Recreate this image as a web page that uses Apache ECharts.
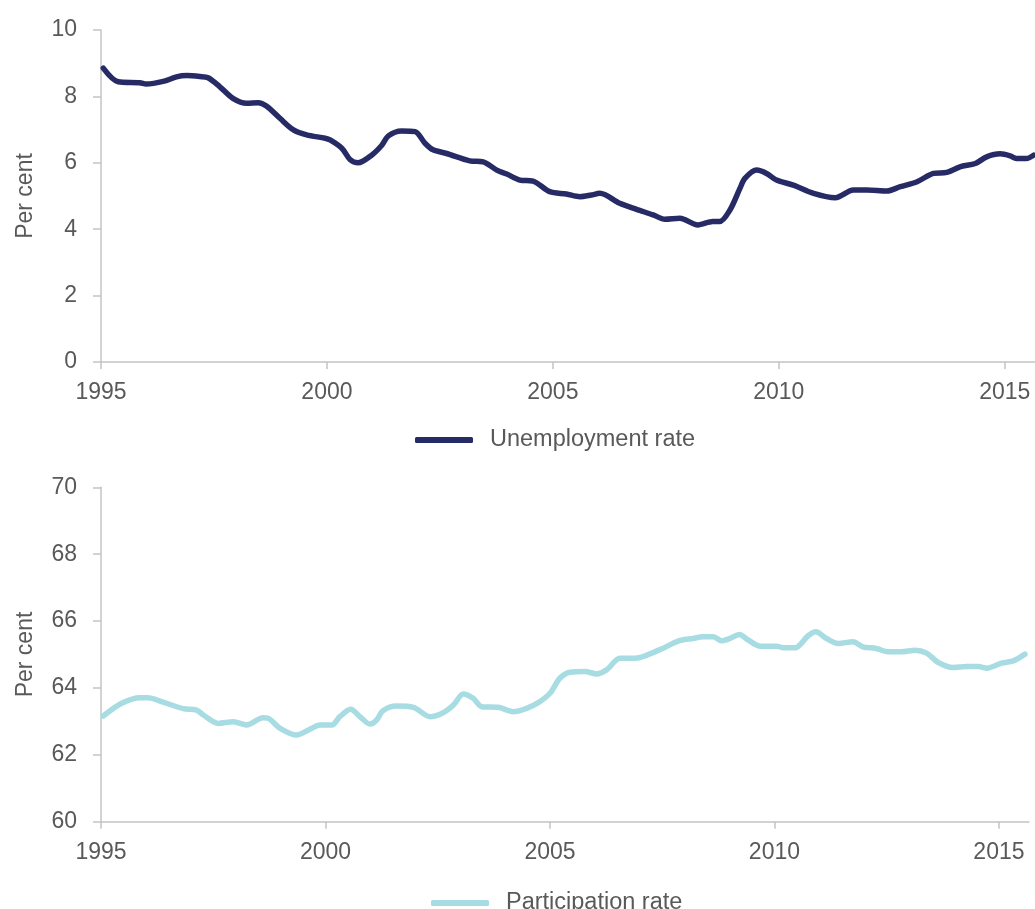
<!DOCTYPE html>
<html>
<head>
<meta charset="utf-8">
<script src="https://cdn.jsdelivr.net/npm/echarts@6/dist/echarts.min.js"></script>
<style>
html,body{margin:0;padding:0;background:#fff;}
#chart{width:1035px;height:909px;}
</style>
</head>
<body>
<div id="chart"></div>
<script>
// ---- Data ----
const unempDates = [1995.05,1995.38,1995.86,1996.0,1996.4,1996.67,1996.9,1997.19,1997.37,1997.63,1997.92,1998.22,1998.48,1998.66,1998.96,1999.26,1999.55,1999.96,2000.07,2000.33,2000.51,2000.69,2000.99,2001.21,2001.36,2001.65,2001.95,2002.17,2002.35,2002.65,2003.16,2003.46,2003.76,2003.98,2004.27,2004.56,2004.93,2005.3,2005.6,2005.85,2006.04,2006.48,2006.85,2007.22,2007.48,2007.81,2008.21,2008.54,2008.69,2008.92,2009.14,2009.25,2009.51,2009.73,2009.95,2010.32,2010.77,2011.25,2011.65,2011.95,2012.39,2012.69,2013.06,2013.42,2013.72,2014.01,2014.35,2014.6,2014.9,2015.12,2015.26,2015.48,2015.64];
const unempValues = [8.85,8.44,8.41,8.37,8.46,8.59,8.63,8.60,8.56,8.29,7.94,7.79,7.81,7.71,7.34,6.99,6.84,6.74,6.69,6.44,6.10,6.00,6.23,6.52,6.81,6.96,6.94,6.59,6.39,6.28,6.06,6.03,5.78,5.66,5.48,5.45,5.13,5.06,4.98,5.03,5.08,4.78,4.60,4.43,4.30,4.33,4.13,4.23,4.23,4.58,5.23,5.53,5.78,5.68,5.48,5.33,5.08,4.95,5.18,5.18,5.15,5.28,5.43,5.68,5.71,5.88,5.98,6.18,6.27,6.21,6.13,6.13,6.23];

const partDates = [1995.05,1995.46,1995.87,1996.05,1996.35,1996.83,1997.13,1997.28,1997.61,1997.95,1998.24,1998.61,1998.73,1998.99,1999.36,1999.62,1999.88,2000.14,2000.32,2000.56,2000.77,2000.99,2001.14,2001.28,2001.58,2001.96,2002.33,2002.62,2002.85,2003.07,2003.29,2003.48,2003.85,2004.18,2004.48,2004.74,2005.0,2005.22,2005.45,2005.78,2006.04,2006.26,2006.56,2006.89,2007.12,2007.52,2007.9,2008.19,2008.41,2008.64,2008.82,2009.01,2009.22,2009.42,2009.68,2010.05,2010.2,2010.46,2010.75,2010.92,2011.16,2011.42,2011.75,2011.97,2012.27,2012.53,2012.83,2013.13,2013.39,2013.65,2013.98,2014.28,2014.54,2014.73,2015.06,2015.32,2015.58];
const partValues = [63.16,63.54,63.71,63.71,63.59,63.38,63.34,63.19,62.94,62.99,62.89,63.11,63.09,62.79,62.59,62.74,62.89,62.89,63.14,63.36,63.14,62.92,63.04,63.32,63.46,63.42,63.14,63.26,63.49,63.82,63.69,63.44,63.42,63.29,63.39,63.56,63.84,64.29,64.47,64.49,64.42,64.54,64.89,64.89,64.96,65.19,65.42,65.48,65.53,65.53,65.41,65.48,65.60,65.43,65.25,65.25,65.20,65.20,65.56,65.68,65.48,65.33,65.38,65.23,65.18,65.08,65.08,65.13,65.04,64.76,64.61,64.64,64.64,64.59,64.74,64.81,65.01];

const yearTicks = [1995, 2000, 2005, 2010, 2015];
const seriesNames = ['Unemployment rate', 'Participation rate'];
const yAxisTitle = 'Per cent';

// ---- Chart ----
const FONT = '"Liberation Sans", Arial, sans-serif';
const TXT = '#595959';
const AX = '#C4C4C4';
const COLORS = ['#272B65', '#A8DCE3'];

function xAxisCfg(gridIndex) {
  return {
    type: 'value', gridIndex: gridIndex, min: 1995, max: 2015.67, interval: 5,
    axisLine: { show: true, lineStyle: { color: AX, width: 1.5 } },
    axisTick: { show: true, length: 7, lineStyle: { color: AX, width: 1.5 }, customValues: yearTicks },
    axisLabel: { color: TXT, fontSize: 23, fontFamily: FONT, margin: 19, customValues: yearTicks,
                 formatter: v => String(Math.round(v)) },
    splitLine: { show: false }
  };
}
function yAxisCfg(gridIndex, min, max) {
  return {
    type: 'value', gridIndex: gridIndex, min: min, max: max, interval: 2,
    name: yAxisTitle, nameLocation: 'middle', nameGap: 64,
    nameTextStyle: { color: TXT, fontSize: 23, fontFamily: FONT },
    axisLine: { show: true, lineStyle: { color: AX, width: 1.5 } },
    axisTick: { show: true, length: 8, lineStyle: { color: AX, width: 1.5 } },
    axisLabel: { color: TXT, fontSize: 23, fontFamily: FONT, margin: 24 },
    splitLine: { show: false }
  };
}

const chart = echarts.init(document.getElementById('chart'), null, { renderer: 'canvas' });
chart.setOption({
  animation: false,
  backgroundColor: '#ffffff',
  grid: [
    { left: 101, top: 30, width: 934, height: 332 },
    { left: 101, top: 487.3, width: 928, height: 334.4 }
  ],
  xAxis: [xAxisCfg(0), xAxisCfg(1)],
  yAxis: [yAxisCfg(0, 0, 10), yAxisCfg(1, 60, 70)],
  legend: [
    { data: [seriesNames[0]], left: 410, top: 423, icon: 'roundRect', itemWidth: 58, itemHeight: 6,
      textStyle: { color: TXT, fontSize: 23.5, fontFamily: FONT, padding: [0, 0, 0, 12] } },
    { data: [seriesNames[1]], left: 426, top: 886, icon: 'roundRect', itemWidth: 58, itemHeight: 6,
      textStyle: { color: TXT, fontSize: 23.5, fontFamily: FONT, padding: [0, 0, 0, 12] } }
  ],
  series: [
    { name: seriesNames[0], type: 'line', xAxisIndex: 0, yAxisIndex: 0, showSymbol: false, smooth: 0.3,
      data: unempDates.map((d, i) => [d, unempValues[i]]),
      lineStyle: { color: COLORS[0], width: 5.5, cap: 'round', join: 'round' }, itemStyle: { color: COLORS[0] } },
    { name: seriesNames[1], type: 'line', xAxisIndex: 1, yAxisIndex: 1, showSymbol: false, smooth: 0.3,
      data: partDates.map((d, i) => [d, partValues[i]]),
      lineStyle: { color: COLORS[1], width: 5.5, cap: 'round', join: 'round' }, itemStyle: { color: COLORS[1] } }
  ]
});
</script>
</body>
</html>
